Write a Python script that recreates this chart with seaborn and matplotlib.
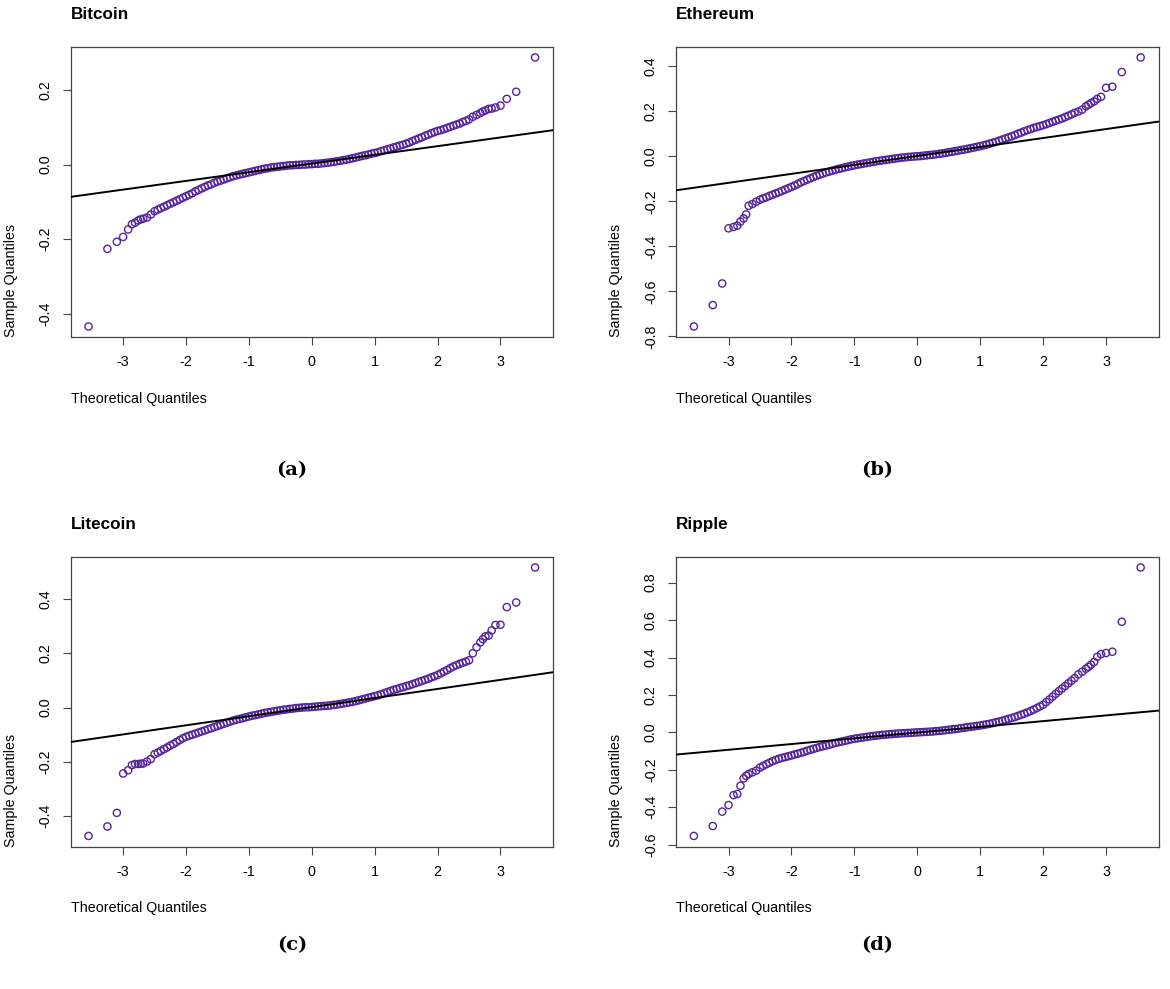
import matplotlib
matplotlib.use("Agg")
import matplotlib.pyplot as plt
import seaborn as sns
import pandas as pd
from matplotlib.ticker import MultipleLocator, FormatStrFormatter

# ---------- data ----------
coins = ["Bitcoin", "Ethereum", "Litecoin", "Ripple"]
captions = ["(a)", "(b)", "(c)", "(d)"]

# theoretical quantiles (shared by all four panels)
theo_low = [-3.55, -3.25, -3.10, -3.00, -2.92, -2.86, -2.81, -2.76, -2.72, -2.68, -2.62, -2.56]
theo_mid = [-2.5, -2.45, -2.4, -2.35, -2.3, -2.25, -2.2, -2.15, -2.1, -2.05,
            -2.0, -1.95, -1.9, -1.85, -1.8, -1.75, -1.7, -1.65, -1.6, -1.55,
            -1.5, -1.45, -1.4, -1.35, -1.3, -1.25, -1.2, -1.15, -1.1, -1.05,
            -1.0, -0.95, -0.9, -0.85, -0.8, -0.75, -0.7, -0.65, -0.6, -0.55,
            -0.5, -0.45, -0.4, -0.35, -0.3, -0.25, -0.2, -0.15, -0.1, -0.05,
            0.0, 0.05, 0.1, 0.15, 0.2, 0.25, 0.3, 0.35, 0.4, 0.45,
            0.5, 0.55, 0.6, 0.65, 0.7, 0.75, 0.8, 0.85, 0.9, 0.95,
            1.0, 1.05, 1.1, 1.15, 1.2, 1.25, 1.3, 1.35, 1.4, 1.45,
            1.5, 1.55, 1.6, 1.65, 1.7, 1.75, 1.8, 1.85, 1.9, 1.95,
            2.0, 2.05, 2.1, 2.15, 2.2, 2.25, 2.3, 2.35, 2.4, 2.45, 2.5]
theo_high = [2.56, 2.62, 2.68, 2.72, 2.76, 2.81, 2.86, 2.92, 3.00, 3.10, 3.25, 3.55]

# sample quantiles
btc_low = [-0.434, -0.226, -0.207, -0.194, -0.174, -0.160, -0.156, -0.150, -0.147, -0.145, -0.142, -0.134]
btc_mid = [-0.125, -0.121, -0.117, -0.113, -0.109, -0.105, -0.101, -0.097, -0.093, -0.089,
           -0.085, -0.081, -0.077, -0.072, -0.068, -0.064, -0.060, -0.056, -0.053, -0.049,
           -0.046, -0.043, -0.040, -0.037, -0.034, -0.031, -0.029, -0.027, -0.025, -0.023,
           -0.021, -0.019, -0.017, -0.015, -0.013, -0.011, -0.010, -0.008, -0.007, -0.006,
           -0.005, -0.004, -0.003, -0.002, -0.002, -0.001, -0.001, 0.000, 0.000, 0.001,
           0.001, 0.002, 0.002, 0.003, 0.004, 0.005, 0.006, 0.007, 0.009, 0.010,
           0.012, 0.013, 0.015, 0.017, 0.019, 0.021, 0.023, 0.025, 0.027, 0.029,
           0.031, 0.033, 0.036, 0.038, 0.041, 0.043, 0.046, 0.048, 0.051, 0.053,
           0.056, 0.059, 0.063, 0.066, 0.070, 0.073, 0.077, 0.080, 0.084, 0.087,
           0.090, 0.092, 0.095, 0.098, 0.101, 0.104, 0.107, 0.110, 0.114, 0.117, 0.121]
btc_high = [0.128, 0.133, 0.138, 0.142, 0.145, 0.149, 0.150, 0.153, 0.158, 0.176, 0.195, 0.287]

eth_low = [-0.756, -0.661, -0.565, -0.320, -0.314, -0.308, -0.290, -0.276, -0.258, -0.220, -0.212, -0.202]
eth_mid = [-0.193, -0.187, -0.182, -0.176, -0.171, -0.165, -0.160, -0.154, -0.148, -0.142,
           -0.136, -0.130, -0.123, -0.116, -0.110, -0.104, -0.098, -0.092, -0.087, -0.082,
           -0.077, -0.072, -0.068, -0.064, -0.060, -0.056, -0.053, -0.049, -0.046, -0.043,
           -0.040, -0.037, -0.035, -0.032, -0.030, -0.027, -0.025, -0.022, -0.020, -0.018,
           -0.016, -0.014, -0.012, -0.010, -0.008, -0.006, -0.005, -0.003, -0.002, -0.001,
           0.000, 0.001, 0.003, 0.004, 0.006, 0.007, 0.009, 0.011, 0.013, 0.015,
           0.018, 0.020, 0.023, 0.025, 0.028, 0.030, 0.033, 0.036, 0.039, 0.042,
           0.045, 0.048, 0.052, 0.056, 0.060, 0.064, 0.069, 0.074, 0.079, 0.084,
           0.089, 0.094, 0.100, 0.105, 0.111, 0.116, 0.121, 0.126, 0.130, 0.134,
           0.138, 0.143, 0.148, 0.153, 0.158, 0.163, 0.168, 0.174, 0.180, 0.186, 0.193]
eth_high = [0.199, 0.207, 0.222, 0.229, 0.236, 0.244, 0.255, 0.264, 0.304, 0.309, 0.374, 0.439]

ltc_low = [-0.473, -0.438, -0.388, -0.243, -0.231, -0.212, -0.208, -0.208, -0.207, -0.206, -0.199, -0.190]
ltc_mid = [-0.172, -0.166, -0.160, -0.153, -0.147, -0.140, -0.134, -0.127, -0.120, -0.113,
           -0.108, -0.104, -0.100, -0.096, -0.092, -0.088, -0.084, -0.080, -0.076, -0.072,
           -0.068, -0.064, -0.060, -0.056, -0.052, -0.048, -0.045, -0.042, -0.039, -0.036,
           -0.033, -0.030, -0.028, -0.025, -0.023, -0.020, -0.018, -0.016, -0.014, -0.012,
           -0.010, -0.008, -0.007, -0.005, -0.004, -0.002, -0.001, 0.000, 0.001, 0.001,
           0.002, 0.003, 0.004, 0.005, 0.006, 0.007, 0.008, 0.010, 0.011, 0.013,
           0.015, 0.017, 0.019, 0.021, 0.024, 0.027, 0.030, 0.033, 0.036, 0.039,
           0.042, 0.045, 0.049, 0.053, 0.057, 0.061, 0.065, 0.068, 0.072, 0.075,
           0.079, 0.082, 0.086, 0.090, 0.094, 0.098, 0.102, 0.106, 0.111, 0.115,
           0.120, 0.126, 0.132, 0.138, 0.145, 0.151, 0.156, 0.161, 0.165, 0.169, 0.174]
ltc_high = [0.200, 0.222, 0.240, 0.252, 0.262, 0.265, 0.284, 0.304, 0.305, 0.370, 0.387, 0.516]

xrp_low = [-0.553, -0.500, -0.423, -0.388, -0.335, -0.329, -0.285, -0.246, -0.232, -0.222, -0.213, -0.204]
xrp_mid = [-0.188, -0.179, -0.170, -0.162, -0.154, -0.147, -0.141, -0.136, -0.132, -0.127,
           -0.123, -0.118, -0.114, -0.109, -0.104, -0.098, -0.093, -0.088, -0.083, -0.078,
           -0.074, -0.070, -0.066, -0.061, -0.056, -0.052, -0.049, -0.045, -0.041, -0.037,
           -0.034, -0.031, -0.029, -0.026, -0.024, -0.021, -0.019, -0.017, -0.015, -0.013,
           -0.012, -0.010, -0.009, -0.007, -0.006, -0.005, -0.004, -0.003, -0.002, -0.001,
           0.000, 0.001, 0.002, 0.003, 0.004, 0.005, 0.007, 0.008, 0.010, 0.012,
           0.014, 0.016, 0.018, 0.020, 0.023, 0.025, 0.028, 0.030, 0.032, 0.035,
           0.037, 0.040, 0.043, 0.046, 0.050, 0.054, 0.058, 0.062, 0.067, 0.072,
           0.077, 0.082, 0.088, 0.094, 0.100, 0.107, 0.114, 0.122, 0.130, 0.139,
           0.148, 0.162, 0.176, 0.191, 0.206, 0.220, 0.234, 0.248, 0.262, 0.276, 0.290]
xrp_high = [0.310, 0.324, 0.340, 0.350, 0.362, 0.376, 0.404, 0.418, 0.424, 0.431, 0.591, 0.881]

# reference line (intercept, slope)
line_intercepts = [0.0027, 0.0015, 0.0015, -0.001]
line_slopes = [0.0233, 0.0398, 0.0335, 0.0306]

# ---------- build table ----------
theo = theo_low + theo_mid + theo_high
samples = {
    "Bitcoin": btc_low + btc_mid + btc_high,
    "Ethereum": eth_low + eth_mid + eth_high,
    "Litecoin": ltc_low + ltc_mid + ltc_high,
    "Ripple": xrp_low + xrp_mid + xrp_high,
}
frames = [pd.DataFrame({"coin": c, "theo": theo, "sample": samples[c]}) for c in coins]
df = pd.concat(frames, ignore_index=True)

# ---------- style ----------
sns.set_style("ticks")
plt.rcParams["font.family"] = ["Liberation Sans", "DejaVu Sans"]
plt.rcParams["axes.unicode_minus"] = False
plt.rcParams["text.color"] = "black"
plt.rcParams["axes.labelcolor"] = "black"

PURPLE = "#55249c"
BOX = "#444444"

fig = plt.figure(figsize=(11.7, 9.89), dpi=100)
positions = [
    (0.0604, 0.659, 0.4122, 0.2938),
    (0.5778, 0.659, 0.4124, 0.2938),
    (0.0604, 0.1439, 0.4122, 0.2932),
    (0.5778, 0.1439, 0.4124, 0.2932),
]
caption_xy = [(0.2496, 0.525), (0.7496, 0.525), (0.2496, 0.044), (0.7496, 0.044)]

for i, coin in enumerate(coins):
    ax = fig.add_axes(positions[i])
    sub = df[df["coin"] == coin]
    sns.scatterplot(data=sub, x="theo", y="sample", ax=ax, marker="o", s=27,
                    facecolors="none", edgecolor=PURPLE, linewidth=1.0, zorder=2)
    ax.margins(x=0.04, y=0.04)
    ax.axline((0, line_intercepts[i]), slope=line_slopes[i], color="black", lw=1.4, zorder=3)

    ax.xaxis.set_major_locator(MultipleLocator(1))
    ax.xaxis.set_major_formatter(FormatStrFormatter("%d"))
    ax.yaxis.set_major_locator(MultipleLocator(0.2))
    ax.yaxis.set_major_formatter(FormatStrFormatter("%.1f"))
    ax.tick_params(axis="both", length=6, width=0.8, color=BOX, labelcolor="black",
                   labelsize=10.3, pad=7)
    ax.tick_params(axis="y", labelrotation=90)
    for lab in ax.get_yticklabels():
        lab.set_va("center")
    for sp in ax.spines.values():
        sp.set_visible(True)
        sp.set_color(BOX)
        sp.set_linewidth(0.9)

    ax.set_title(coin, loc="left", fontweight="bold", fontsize=12.3, pad=20, color="black")
    ax.set_xlabel("Theoretical Quantiles", loc="left", fontsize=10.3)
    ax.xaxis.set_label_coords(0, -0.213)
    ax.xaxis.label.set_va("center")
    ax.set_ylabel("Sample Quantiles", loc="bottom", fontsize=10.3)
    ax.yaxis.set_label_coords(-0.124, 0)
    ax.yaxis.label.set_va("center")

    fig.text(caption_xy[i][0], caption_xy[i][1], captions[i], ha="center", va="center",
             fontsize=14, fontweight="bold", family="DejaVu Serif")

fig.savefig("out.png", dpi=100)
